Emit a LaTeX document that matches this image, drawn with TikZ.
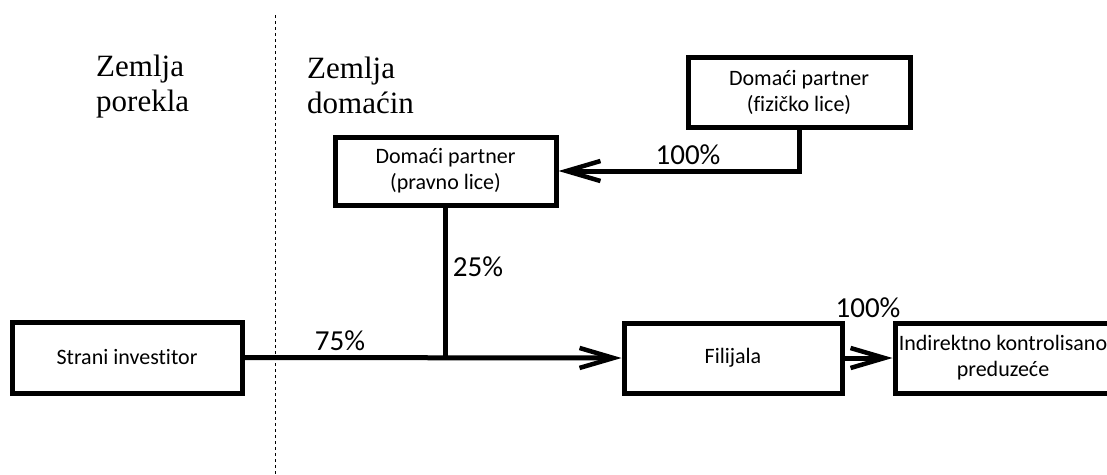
\documentclass[tikz,border=0pt]{standalone}
\usepackage{fontspec}
\setmainfont{Liberation Serif}
\newfontfamily\boxfont[Ligatures={NoCommon,NoDiscretionary,NoContextual}]{Carlito}
\usetikzlibrary{arrows.meta}
\begin{document}
\begin{tikzpicture}[x=1pt,y=-1pt,
  box/.style={draw,line width=5pt,inner sep=0pt,font=\boxfont\fontsize{22}{26}\selectfont,align=center},
  conn/.style={line width=5pt},
  arr/.style={conn,-{Straight Barb[length=34pt,width=20pt,line width=4.5pt]}},
  pct/.style={font=\boxfont\fontsize{29}{31}\selectfont,inner sep=0pt},
  region/.style={font=\fontsize{31}{35}\selectfont,align=left,inner sep=0pt}]
\useasboundingbox (0,0) rectangle (1107,474);
\node[box,minimum width=230pt,minimum height=71pt] (si) at (127,357.5) {Strani investitor};
\node[box,minimum width=221pt,minimum height=68pt] (pl) at (445.5,171) {Domaći partner\\(pravno lice)};
\node[box,minimum width=222pt,minimum height=70pt] (fl) at (799,92) {Domaći partner\\(fizičko lice)};
\node[box,minimum width=218pt,minimum height=70pt] (fi) at (733,358) {Filijala};
\node[box,minimum width=216pt,minimum height=70pt] (ik) at (1003,358) {Indirektno kontrolisano\\preduzeće};
\draw[dashed,line width=1pt] (275,15) coordinate (dtop) -- (275,474) coordinate (dbot);
\coordinate (j) at (pl.south |- fi.west);
\draw[arr] (si.east) -- (fi.west);
\draw[conn] (pl.south) -- (j);
\coordinate (fc) at (fl.south |- pl.east);
\draw[arr] (fl.south) -- (fc) -- (pl.east);
\draw[arr] (fi.east) -- (ik.west);
\node[pct] (p100a) at (688,155) {100\%};
\node[pct] (p25) at (478,267) {25\%};
\node[pct] (p75) at (340,341) {75\%};
\node[pct] (p100b) at (868,308) {100\%};
\node[region,anchor=north west] (zp) at (96,55) {Zemlja\\porekla};
\node[region,anchor=north west] (zd) at (307,57) {Zemlja\\domaćin};
\end{tikzpicture}
\end{document}
